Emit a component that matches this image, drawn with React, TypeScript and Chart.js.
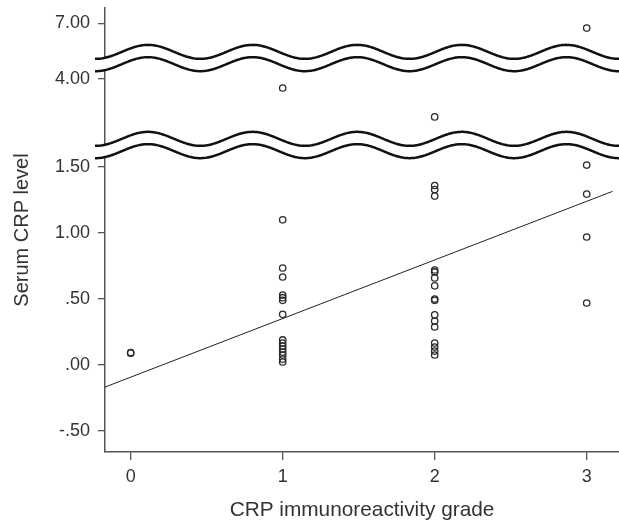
import React, { useEffect, useRef } from 'react'
import { Chart, registerables } from 'chart.js'

Chart.register(...registerables)

// observed values per immunoreactivity grade (serum CRP)
const grade0 = [0.09, 0.095]
const grade1 = [3.68, 1.1, 0.735, 0.667, 0.53, 0.51, 0.49, 0.384, 0.19, 0.167, 0.144, 0.121, 0.098, 0.076, 0.045, 0.023]
const grade2 = [2.66, 1.36, 1.33, 1.28, 0.72, 0.705, 0.66, 0.6, 0.5, 0.49, 0.38, 0.333, 0.288, 0.167, 0.136, 0.106, 0.076]
const grade3 = [6.68, 1.515, 1.295, 0.97, 0.47]
const grades = [grade0, grade1, grade2, grade3]

// fitted regression line end points
const fitX = [-0.169, 3.17]
const fitY = [-0.167, 1.316]

const xTicks = [0, 1, 2, 3]
const yTickValues = [-0.5, 0, 0.5, 1, 1.5, 4, 7]
const yTickLabels = ['-.50', '.00', '.50', '1.00', '1.50', '4.00', '7.00']

// broken axis: real value -> compressed axis value
const valueStops = [-1, 1.667, 4.74, 8]
const axisStops = [-1, 1.667, 2.326, 2.707]
const breakAt = [1.667, 4.74]

function toAxis(v: number) {
    for (let i = 1; i < valueStops.length; i++) {
        if (v <= valueStops[i] || i === valueStops.length - 1) {
            const t = (v - valueStops[i - 1]) / (valueStops[i] - valueStops[i - 1])
            return axisStops[i - 1] + t * (axisStops[i] - axisStops[i - 1])
        }
    }
    return v
}

const textColor = '#333'
const axisColor = '#555'
const family = '"Liberation Sans", Arial, sans-serif'
const tickFont = { family, size: 18 }

// wavy break marks across the plot
const breakPlugin = {
    id: 'axisBreaks',
    afterDatasetsDraw(chart: any) {
        const { ctx, chartArea, scales } = chart
        const y = scales.y
        const start = chartArea.left - 10
        const end = chart.width
        const period = 104.6
        const amp = 7
        const gap = 6.15
        const peakX = chartArea.left + 43
        const wave = (x: number) => -amp * Math.cos((2 * Math.PI * (x - peakX)) / period)
        breakAt.forEach((b) => {
            const yc = y.getPixelForValue(toAxis(b))
            ctx.save()
            ctx.beginPath()
            for (let x = start; x <= end; x++) ctx.lineTo(x, yc - gap + wave(x))
            for (let x = end; x >= start; x--) ctx.lineTo(x, yc + gap + wave(x))
            ctx.closePath()
            ctx.fillStyle = '#fff'
            ctx.fill()
            ctx.strokeStyle = '#111'
            ctx.lineWidth = 2.5
            ;[-gap, gap].forEach((off) => {
                ctx.beginPath()
                for (let x = start; x <= end; x++) {
                    if (x === start) ctx.moveTo(x, yc + off + wave(x))
                    else ctx.lineTo(x, yc + off + wave(x))
                }
                ctx.stroke()
            })
            ctx.restore()
        })
    }
}

function ScatterChart() {
    const chartRef = useRef<HTMLCanvasElement>(null)

    useEffect(() => {
        if (!chartRef.current) return
        document.body.style.margin = '0'

        const points = grades.flatMap((vals, g) => vals.map((v) => ({ x: g, y: toAxis(v) })))
        const fit = fitX.map((x, i) => ({ x, y: toAxis(fitY[i]) }))

        const chart = new Chart(chartRef.current, {
            type: 'scatter',
            data: {
                datasets: [
                    {
                        data: points,
                        pointStyle: 'circle',
                        pointRadius: 3.2,
                        pointBorderWidth: 1.3,
                        borderColor: '#2a2a2a',
                        backgroundColor: 'rgba(0,0,0,0)'
                    },
                    {
                        data: fit,
                        showLine: true,
                        pointRadius: 0,
                        borderColor: '#222',
                        borderWidth: 1
                    }
                ]
            },
            options: {
                animation: false,
                responsive: true,
                maintainAspectRatio: false,
                layout: { autoPadding: false, padding: { top: 8, right: 0, left: 0, bottom: 0 } },
                plugins: { legend: { display: false }, tooltip: { enabled: false } },
                scales: {
                    x: {
                        type: 'linear',
                        min: -0.169,
                        max: 3.2125,
                        afterBuildTicks: (scale: any) => {
                            scale.ticks = xTicks.map((v) => ({ value: v }))
                        },
                        afterFit: (scale: any) => {
                            scale.height = 77
                            scale.paddingLeft = 0
                            scale.paddingRight = 0
                        },
                        grid: { drawOnChartArea: false, drawTicks: true, tickLength: 8, color: axisColor, lineWidth: 1.3 },
                        border: { display: true, color: axisColor, width: 1.5 },
                        ticks: { color: textColor, font: tickFont, padding: 6, maxRotation: 0 },
                        title: {
                            display: true,
                            text: 'CRP immunoreactivity grade',
                            color: textColor,
                            font: { family, size: 20.8 },
                            padding: { top: 0, bottom: 6 }
                        }
                    },
                    y: {
                        type: 'linear',
                        min: -0.659,
                        max: 2.705,
                        afterBuildTicks: (scale: any) => {
                            scale.ticks = yTickValues.map((v) => ({ value: toAxis(v) }))
                        },
                        afterFit: (scale: any) => {
                            scale.width = 105
                            scale.paddingTop = 0
                            scale.paddingBottom = 0
                        },
                        grid: { drawOnChartArea: false, drawTicks: true, tickLength: 7, color: axisColor, lineWidth: 1.3 },
                        border: { display: true, color: axisColor, width: 1.5 },
                        ticks: {
                            color: textColor,
                            font: tickFont,
                            padding: 8,
                            callback: (_value: any, index: number) => yTickLabels[index]
                        },
                        title: {
                            display: true,
                            text: 'Serum CRP level',
                            color: textColor,
                            font: { family, size: 20 },
                            padding: { top: 10, bottom: 0 }
                        }
                    }
                }
            },
            plugins: [breakPlugin]
        })

        return () => {
            chart.destroy()
        }
    }, [])

    return (
        <div style={{ width: 619, height: 529, position: 'relative' }}>
            <canvas ref={chartRef} />
        </div>
    )
}

export default function App() {
    return <ScatterChart />
}
